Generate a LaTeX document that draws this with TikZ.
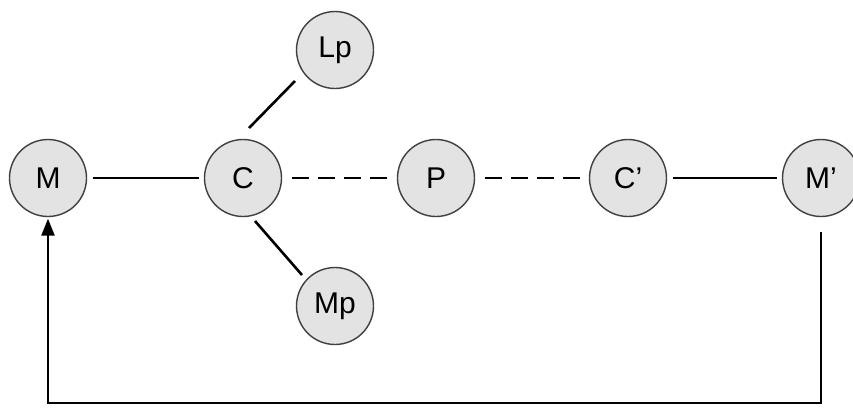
\documentclass[tikz,border=0pt]{standalone}
\usepackage{fontspec}
\setmainfont{Liberation Sans}
\usetikzlibrary{arrows.meta}
\begin{document}
\begin{tikzpicture}[x=1pt,y=-1pt,
  ball/.style={circle, draw=black!75, line width=1.4pt, fill=black!11,
    minimum size=77pt, inner sep=0pt, font=\fontsize{30}{32}\selectfont},
  link/.style={line width=2.6pt},
  dlink/.style={line width=2.6pt, dash pattern=on 17pt off 9pt, shorten <=10pt, shorten >=9pt},
  feedarrow/.style={line width=2.6pt, -{Triangle[length=17pt,width=13pt]}}]
\useasboundingbox (0,0) rectangle (853,407);
\node[ball] (M)  at (48,178)  {M};
\node[ball] (C)  at (243,178) {C};
\node[ball] (P)  at (436,178) {P};
\node[ball] (C2) at (628,178) {C'};
\node[ball] (M2) at (821,178) {M'};
\node[ball] (Lp) at (335,50)  {Lp};
\node[ball] (Mp) at (335,306) {Mp};
\coordinate (bot) at (0,403);
\draw[link, shorten <=6pt, shorten >=5pt] (M) -- (C);
\draw[dlink] (C) -- (P);
\draw[dlink] (P) -- (C2);
\draw[link, shorten <=6pt, shorten >=5pt] (C2) -- (M2);
\draw[link] ([shift={(6,-50)}]C.center) -- ([shift={(-40,31)}]Lp.center);
\draw[link] ([shift={(12,43)}]C.center) -- ([shift={(-33,-31)}]Mp.center);
\draw[feedarrow, shorten <=15pt, shorten >=1.5pt] (M2.south) -- (M2.south |- bot) -| (M.south);
\end{tikzpicture}
\end{document}
